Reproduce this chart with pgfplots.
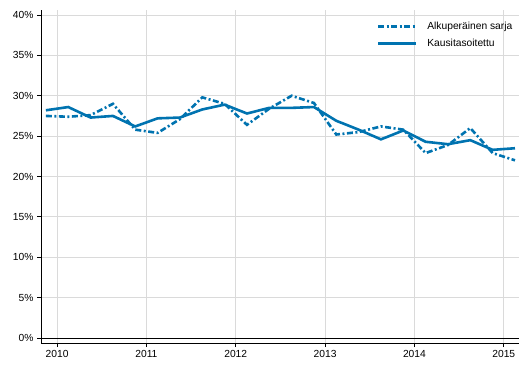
\documentclass[border=0pt]{standalone}
\usepackage{pgfplots}
\pgfplotsset{compat=1.18}
\usepackage{fontspec}
\setmainfont{Liberation Sans}
\definecolor{sblue}{RGB}{0,115,176}
\definecolor{gridgray}{RGB}{218,218,218}
\begin{document}
\begin{tikzpicture}
\useasboundingbox (-41bp,-35bp) rectangle (488bp,343bp);
\begin{axis}[
 at={(0,0)}, anchor=south west, scale only axis, width=478bp, height=333bp,
 xmin=2009.82, xmax=2015.17, ymin=-0.62, ymax=40.62,
 axis x line=bottom, axis y line=left,
 axis line style={-, black, line width=0.9bp},
 xtick={2010,...,2015}, ytick={0,5,...,40},
 xticklabel style={/pgf/number format/1000 sep={}},
 yticklabel={\pgfmathprintnumber{\tick}\%},
 /pgf/number format/assume math mode=true,
 tick label style={font=\fontsize{10.3}{12}\selectfont},
 tick align=outside, major tick length=4bp, tick style={black, line width=0.9bp},
 grid=major, grid style={gridgray, line width=0.9bp},
 legend style={draw=none, fill=none, at={(0.702,0.97)}, anchor=north west,
   font=\fontsize{10.3}{12}\selectfont, row sep=4bp, column sep=8bp, inner sep=0pt, cells={anchor=west}},
 legend image code/.code={\draw[#1] (0bp,0bp) -- (38bp,0bp);},
]
\addplot[black, line width=0.9bp, forget plot] coordinates {(2009.82,0) (2015.17,0)};
\addplot[sblue, line width=2.6bp, dash pattern=on 6bp off 2.5bp on 2bp off 2.5bp] table {
x y
2009.875 27.5
2010.125 27.4
2010.375 27.6
2010.625 29.0
2010.875 25.8
2011.125 25.4
2011.375 27.1
2011.625 29.8
2011.875 29.0
2012.125 26.4
2012.375 28.4
2012.625 30.0
2012.875 29.1
2013.125 25.2
2013.375 25.5
2013.625 26.2
2013.875 25.8
2014.125 22.9
2014.375 23.9
2014.625 26.0
2014.875 22.9
2015.125 22.0
};
\addlegendentry{Alkuperäinen sarja}
\addplot[sblue, line width=2.6bp] table {
x y
2009.875 28.2
2010.125 28.6
2010.375 27.3
2010.625 27.5
2010.875 26.2
2011.125 27.2
2011.375 27.3
2011.625 28.3
2011.875 28.9
2012.125 27.8
2012.375 28.5
2012.625 28.5
2012.875 28.6
2013.125 26.9
2013.375 25.8
2013.625 24.6
2013.875 25.7
2014.125 24.3
2014.375 24.0
2014.625 24.5
2014.875 23.3
2015.125 23.5
};
\addlegendentry{Kausitasoitettu}
\end{axis}
\end{tikzpicture}
\end{document}
